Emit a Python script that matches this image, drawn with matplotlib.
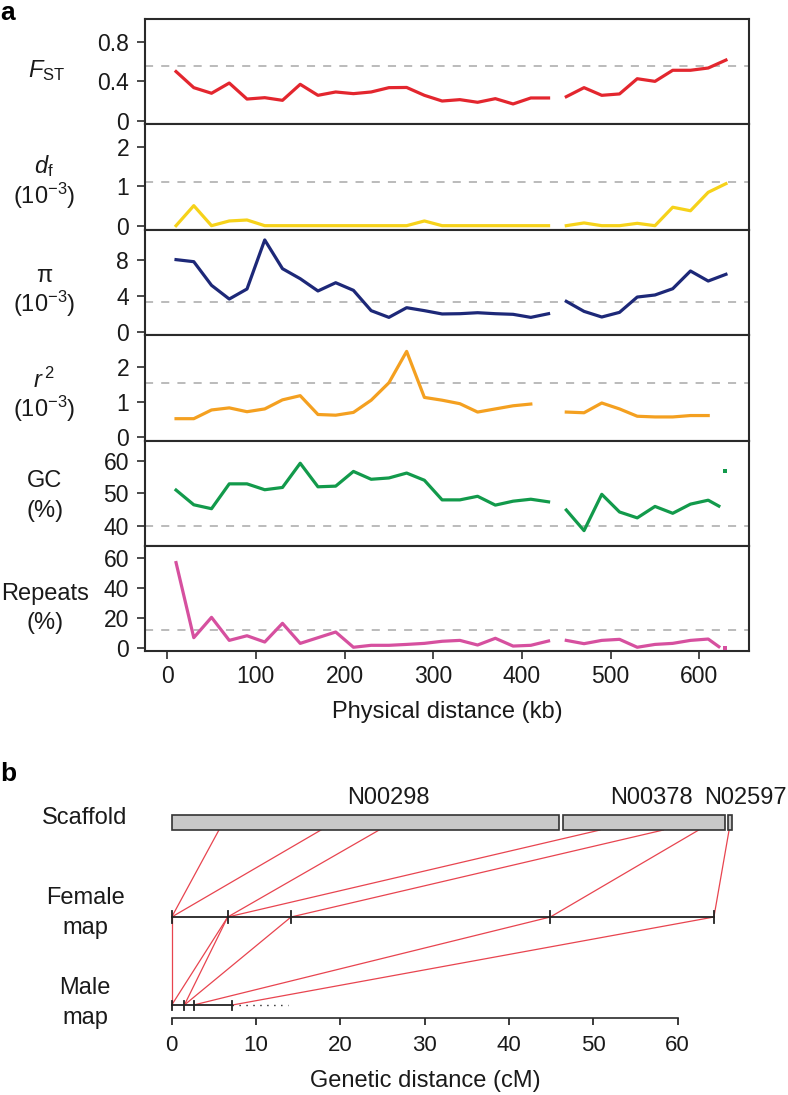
import matplotlib
matplotlib.use('Agg')
import matplotlib.pyplot as plt
from matplotlib.patches import Rectangle

plt.rcParams['font.family'] = ['Liberation Sans', 'DejaVu Sans']
plt.rcParams['mathtext.fontset'] = 'custom'
plt.rcParams['mathtext.rm'] = 'Liberation Sans'
plt.rcParams['mathtext.it'] = 'Liberation Sans:italic'
plt.rcParams['mathtext.bf'] = 'Liberation Sans:bold'

# ---------------- data: panel a ----------------
x_seg1 = [10, 30, 50, 70, 90, 110, 130, 150, 170, 190, 210, 230, 250, 270,
          290, 310, 330, 350, 370, 390, 410, 430]
x_seg2 = [450, 470, 490, 510, 530, 550, 570, 590, 610, 630]
x_r2_seg1 = [10, 30, 50, 70, 90, 110, 130, 150, 170, 190, 210, 230, 250, 270,
             290, 310, 330, 350, 370, 390, 410]
x_r2_seg2 = [450, 470, 490, 510, 530, 550, 570, 590, 610]
x_gc_seg2 = [450, 470, 490, 510, 530, 550, 570, 590, 610, 622]
x_last_scaffold = [629]

fst_1 = [0.50, 0.336, 0.279, 0.383, 0.22, 0.234, 0.207, 0.37, 0.258, 0.292, 0.275,
         0.292, 0.336, 0.338, 0.258, 0.20, 0.214, 0.187, 0.224, 0.17, 0.231, 0.231]
fst_2 = [0.244, 0.336, 0.258, 0.272, 0.427, 0.40, 0.513, 0.513, 0.536, 0.617]

df_1 = [0, 0.51, 0, 0.12, 0.145, 0, 0, 0, 0, 0, 0, 0, 0, 0, 0.12, 0, 0, 0, 0, 0, 0, 0]
df_2 = [0, 0.07, 0, 0, 0.06, 0, 0.47, 0.38, 0.85, 1.07]

pi_1 = [8.05, 7.82, 5.18, 3.65, 4.77, 10.25, 7.04, 5.92, 4.55, 5.47, 4.62, 2.35,
        1.6, 2.68, 2.35, 1.98, 2.01, 2.12, 2.01, 1.94, 1.6, 2.01]
pi_2 = [3.39, 2.27, 1.64, 2.16, 3.87, 4.1, 4.8, 6.78, 5.66, 6.41]

r2_1 = [0.52, 0.52, 0.77, 0.83, 0.72, 0.80, 1.06, 1.18, 0.64, 0.62, 0.70, 1.05,
        1.55, 2.45, 1.13, 1.05, 0.95, 0.71, 0.80, 0.89, 0.94]
r2_2 = [0.71, 0.69, 0.97, 0.80, 0.59, 0.57, 0.57, 0.61, 0.61]

gc_1 = [51.0, 46.5, 45.3, 52.9, 52.9, 51.1, 51.8, 59.2, 52.0, 52.2, 56.7, 54.3,
        54.7, 56.2, 54.0, 48.0, 48.0, 49.1, 46.4, 47.6, 48.2, 47.4]
gc_2 = [44.9, 38.6, 49.7, 44.3, 42.5, 46.0, 43.9, 46.7, 47.9, 46.1]
gc_3 = [56.9]

rep_1 = [56.9, 6.7, 20.3, 4.9, 8.0, 3.8, 16.3, 2.9, 6.7, 10.5, 0.3, 1.6, 1.6, 2.2,
         2.9, 4.3, 4.9, 1.8, 6.3, 1.1, 1.6, 4.5]
rep_2 = [4.9, 2.7, 4.9, 5.6, 0.3, 2.2, 2.9, 4.9, 5.8, 0.7]
rep_3 = [0.0]

thresholds = [0.553, 1.12, 3.28, 1.54, 39.9, 11.6]
x_ticks = [0, 100, 200, 300, 400, 500, 600]

# ---------------- data: panel b ----------------
scaffold_names = ['N00298', 'N00378', 'N02597']
scaffold_start = [0.0, 46.4, 66.0]
scaffold_end = [45.9, 65.6, 66.4]
female_markers = [0, 6.64, 14.15, 44.9, 64.3]
male_markers = [0, 1.5, 2.6, 7.2]
male_dotted_end = 13.8
scaffold_to_female = [(5.6, 0), (17.7, 0), (24.6, 6.64), (50.8, 6.64),
                      (58.3, 14.15), (62.5, 44.9), (66.1, 64.3)]
female_to_male = [(0, 0), (6.64, 0), (6.64, 1.5), (14.15, 1.5), (44.9, 2.6), (64.3, 7.2)]
cm_ticks = [0, 10, 20, 30, 40, 50, 60]

# ---------------- figure ----------------
W, H = 788, 1095
fig = plt.figure(figsize=(W / 100, H / 100), dpi=100)


def rect(x0, y0, x1, y1):
    return [x0 / W, 1 - y1 / H, (x1 - x0) / W, (y1 - y0) / H]


def fy(y):
    return 1 - y / H


def fx(x):
    return x / W


rows = [19, 124, 230, 335, 441, 546, 651]
panels = [
    dict(segs=[(x_seg1, fst_1), (x_seg2, fst_2)], color='#e3262e',
         ylim=(-0.034, 1.035), yt=[0, 0.4, 0.8], ytl=['0', '0.4', '0.8']),
    dict(segs=[(x_seg1, df_1), (x_seg2, df_2)], color='#f6d21a',
         ylim=(-0.11, 2.59), yt=[0, 1, 2], ytl=['0', '1', '2']),
    dict(segs=[(x_seg1, pi_1), (x_seg2, pi_2)], color='#1d2878',
         ylim=(-0.37, 11.36), yt=[0, 4, 8], ytl=['0', '4', '8']),
    dict(segs=[(x_r2_seg1, r2_1), (x_r2_seg2, r2_2)], color='#f4a020',
         ylim=(-0.12, 2.92), yt=[0, 1, 2], ytl=['0', '1', '2']),
    dict(segs=[(x_seg1, gc_1), (x_gc_seg2, gc_2)], dot=(x_last_scaffold, gc_3),
         color='#129a4b', ylim=(33.9, 66.0), yt=[40, 50, 60], ytl=['40', '50', '60']),
    dict(segs=[(x_seg1, rep_1), (x_gc_seg2, rep_2)], dot=(x_last_scaffold, rep_3),
         color='#d6509f', ylim=(-2.2, 68.0), yt=[0, 20, 40, 60],
         ytl=['0', '20', '40', '60']),
]

spine_c = '#2a2a2a'
for i, p in enumerate(panels):
    ax = fig.add_axes(rect(145, rows[i], 749, rows[i + 1]))
    ax.set_xlim(-25, 656)
    ax.set_ylim(*p['ylim'])
    ax.axhline(thresholds[i], color='#a8a8a8', lw=1.1, ls=(0, (5.3, 5.3)), zorder=1)
    for xs, ys in p['segs']:
        ax.plot(xs, ys, color=p['color'], lw=2.3, zorder=3)
    if 'dot' in p:
        ax.plot(p['dot'][0], p['dot'][1], ls='none', marker='s', ms=3.2,
                color=p['color'], mew=0, zorder=3)
    ax.set_yticks(p['yt'])
    ax.set_yticklabels(p['ytl'])
    ax.tick_params(axis='y', direction='out', length=5.5, width=1.1, pad=6,
                   labelsize=16.5, colors='#1a1a1a')
    for s in ax.spines.values():
        s.set_linewidth(1.5)
        s.set_color(spine_c)
    if i < len(panels) - 1:
        ax.set_xticks([])
    else:
        ax.set_xticks(x_ticks)
        ax.set_xticklabels([str(t) for t in x_ticks])
        ax.tick_params(axis='x', direction='out', length=6, width=1.1, pad=4,
                       labelsize=16.5, colors='#1a1a1a')

# y labels panel a
lab_kw = dict(ha='center', va='center', fontsize=17, color='#1a1a1a')
fig.text(fx(47), fy(71), r'$F_{\mathrm{ST}}$', **lab_kw)
fig.text(fx(44), fy(166), r'$d_{\mathrm{f}}$', **lab_kw)
fig.text(fx(44), fy(196), r'(10$^{-3}$)', **lab_kw)
fig.text(fx(44), fy(276), 'π', **lab_kw)
fig.text(fx(44), fy(304), r'(10$^{-3}$)', **lab_kw)
fig.text(fx(44), fy(380), r'$r^{\,\mathrm{2}}$', **lab_kw)
fig.text(fx(44), fy(409), r'(10$^{-3}$)', **lab_kw)
fig.text(fx(45), fy(481), 'GC', **lab_kw)
fig.text(fx(45), fy(511), '(%)', **lab_kw)
fig.text(fx(45), fy(594), 'Repeats', **lab_kw)
fig.text(fx(45), fy(623), '(%)', **lab_kw)
fig.text(fx(447), fy(712), 'Physical distance (kb)', **lab_kw)

fig.text(fx(0), fy(13), 'a', ha='left', va='center', fontsize=19, fontweight='bold')
fig.text(fx(0), fy(774), 'b', ha='left', va='center', fontsize=19, fontweight='bold')

# ---------------- panel b ----------------
axb = fig.add_axes(rect(145, 780, 749, 1040))
axb.set_xlim(-3.17, 68.46)
axb.set_ylim(1040, 780)
for k in ['top', 'left', 'right']:
    axb.spines[k].set_visible(False)
axb.spines['bottom'].set_position(('data', 1018))
axb.spines['bottom'].set_bounds(cm_ticks[0], cm_ticks[-1])
axb.spines['bottom'].set_linewidth(1.2)
axb.spines['bottom'].set_color(spine_c)
axb.set_yticks([])
axb.set_xticks(cm_ticks)
axb.set_xticklabels([str(t) for t in cm_ticks])
axb.tick_params(axis='x', direction='out', length=5, width=1.2, pad=7,
                labelsize=16, colors='#1a1a1a')

y_scaf_top, y_scaf_bot = 815, 830
y_fem, y_male = 917, 1005
red = '#e8444f'
line_c = '#222222'

for s0, s1, name in zip(scaffold_start, scaffold_end, scaffold_names):
    axb.add_patch(Rectangle((s0, y_scaf_top), s1 - s0, y_scaf_bot - y_scaf_top,
                            facecolor='#c8c8c8', edgecolor='#333333', lw=1.2, zorder=2))

name_x = [388, 651, 745]
for nx, name in zip(name_x, scaffold_names):
    fig.text(fx(nx), fy(798), name, ha='center', va='center', fontsize=17, color='#1a1a1a')

for s, f in scaffold_to_female:
    axb.plot([s, f], [y_scaf_bot, y_fem], color=red, lw=0.9, zorder=1)
for f, m in female_to_male:
    axb.plot([f, m], [y_fem, y_male], color=red, lw=0.9, zorder=1)

axb.plot([female_markers[0], female_markers[-1]], [y_fem, y_fem], color=line_c, lw=1.3, zorder=3)
for f in female_markers:
    axb.plot([f, f], [y_fem - 6, y_fem + 6], color=line_c, lw=1.3, zorder=3)
axb.plot([male_markers[0], male_markers[-1]], [y_male, y_male], color=line_c, lw=1.3, zorder=3)
for m in male_markers:
    axb.plot([m, m], [y_male - 4.5, y_male + 4.5], color=line_c, lw=1.3, zorder=3)
axb.plot([male_markers[-1], male_dotted_end], [y_male, y_male], color=line_c, lw=1.0,
         ls=(0, (1, 4)), zorder=3)

fig.text(fx(85), fy(818), 'Scaffold', **lab_kw)
fig.text(fx(85), fy(898), 'Female', **lab_kw)
fig.text(fx(85), fy(928), 'map', **lab_kw)
fig.text(fx(85), fy(988), 'Male', **lab_kw)
fig.text(fx(85), fy(1018), 'map', **lab_kw)
fig.text(fx(425), fy(1081), 'Genetic distance (cM)', **lab_kw)

fig.savefig('out.png', dpi=100)
